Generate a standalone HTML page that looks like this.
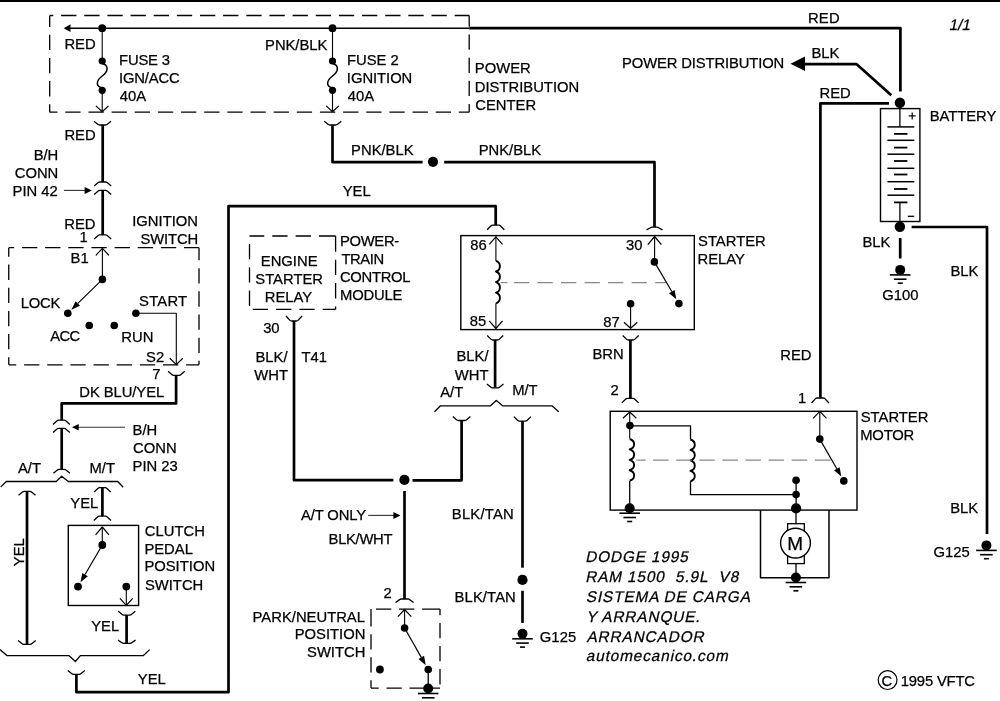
<!DOCTYPE html>
<html><head><meta charset="utf-8"><style>
html,body{margin:0;padding:0;background:#fff;overflow:hidden;}
svg{display:block;will-change:transform;}
path{stroke-linejoin:round;}
text{font-family:"Liberation Sans",sans-serif;font-size:14.8px;fill:#000;stroke:#000;stroke-width:0.25px;}
</style></head><body>
<svg width="1000" height="701" viewBox="0 0 1000 701">
<rect width="1000" height="701" fill="#fff"/>
<rect x="0" y="0" width="1000" height="2"/>
<path d="M49.7 15.5H53.25M61.1 15.5H76.4M84.25 15.5H99.55M107.4 15.5H122.7M130.55 15.5H145.85M153.7 15.5H169M176.85 15.5H192.15M200 15.5H215.3M223.15 15.5H238.45M246.3 15.5H261.6M269.45 15.5H284.75M292.6 15.5H307.9M315.75 15.5H331.05M338.9 15.5H354.2M362.05 15.5H377.35M385.2 15.5H400.5M408.35 15.5H423.65M431.5 15.5H446.8M454.65 15.5H469.2" stroke="#000" stroke-width="1.3" fill="none"/>
<path d="M49.7 15.5V26.95M49.7 34.8V50.1M49.7 57.95V73.25M49.7 81.1V96.4M49.7 104.25V112.2" stroke="#000" stroke-width="1.3" fill="none"/>
<path d="M49.7 112.2H57.45M65.3 112.2H80.6M88.45 112.2H103.75M111.6 112.2H126.9M134.75 112.2H150.05M157.9 112.2H173.2M181.05 112.2H196.35M204.2 112.2H219.5M227.35 112.2H242.65M250.5 112.2H265.8M273.65 112.2H288.95M296.8 112.2H312.1M319.95 112.2H335.25M343.1 112.2H358.4M366.25 112.2H381.55M389.4 112.2H404.7M412.55 112.2H427.85M435.7 112.2H451M458.85 112.2H469.2" stroke="#000" stroke-width="1.3" fill="none"/>
<path d="M469.2 15.5V26.65M469.2 34.5V49.8M469.2 57.65V72.95M469.2 80.8V96.1M469.2 103.95V112.2" stroke="#000" stroke-width="1.3" fill="none"/>
<path d="M63.7 28.2 L70.5 24.3 L70.5 32 Z"/>
<path d="M70 28.2 L469.2 28.2" stroke="#000" stroke-width="1.4" fill="none" />
<path d="M469.2 28.1 L900.4 28.1 L900.4 91.5" stroke="#000" stroke-width="2.7" fill="none" />
<circle cx="102.2" cy="28.2" r="3.9"/>
<path d="M102.2 28.2 L102.2 61" stroke="#000" stroke-width="1.1" fill="none" />
<circle cx="102.2" cy="61" r="3.6"/>
<path d="M102.2 63.5 C108.7 65 108.7 71 102.2 76 C95.7 81 95.7 86.5 102.2 88" stroke="#000" stroke-width="1.5" fill="none"/>
<circle cx="102.2" cy="90.3" r="3.6"/>
<path d="M102.2 90 L102.2 111.7" stroke="#000" stroke-width="1.1" fill="none" />
<path d="M95.9 105.9 L102.2 111.7 L108.5 105.9" stroke="#000" stroke-width="1.2" fill="none" />
<path d="M94 121.2 L98 124.4 Q98.6 125 99.5 125 L105.5 125 Q106.4 125 107 124.4 L111 121.2" stroke="#000" stroke-width="1.3" fill="none"/>
<circle cx="332.5" cy="28.2" r="3.9"/>
<path d="M332.5 28.2 L332.5 61" stroke="#000" stroke-width="1.1" fill="none" />
<circle cx="332.5" cy="61" r="3.6"/>
<path d="M332.5 63.5 C339.0 65 339.0 71 332.5 76 C326.0 81 326.0 86.5 332.5 88" stroke="#000" stroke-width="1.5" fill="none"/>
<circle cx="332.5" cy="90.3" r="3.6"/>
<path d="M332.5 90 L332.5 111.7" stroke="#000" stroke-width="1.1" fill="none" />
<path d="M326.2 105.9 L332.5 111.7 L338.8 105.9" stroke="#000" stroke-width="1.2" fill="none" />
<path d="M324.3 121.2 L328.3 124.4 Q328.9 125 329.8 125 L335.8 125 Q336.7 125 337.3 124.4 L341.3 121.2" stroke="#000" stroke-width="1.3" fill="none"/>
<text x="64.39" y="48.9" >RED</text>
<text x="119.09" y="64.8" textLength="50.86" lengthAdjust="spacing" >FUSE 3</text>
<text x="118.94" y="82.9" textLength="60.82" lengthAdjust="spacing" >IGN/ACC</text>
<text x="119.86" y="100.7" >40A</text>
<text x="265.09" y="50" textLength="62.19" lengthAdjust="spacing" >PNK/BLK</text>
<text x="346.99" y="65.4" >FUSE 2</text>
<text x="346.84" y="83.2" textLength="65.47" lengthAdjust="spacing" >IGNITION</text>
<text x="347.86" y="101" >40A</text>
<text x="474.79" y="72.5" >POWER</text>
<text x="474.79" y="91.5" >DISTRIBUTION</text>
<text x="475.25" y="110.2" >CENTER</text>
<text x="807.99" y="22.7" textLength="31.63" lengthAdjust="spacing" >RED</text>
<text transform="translate(948.84 30.4) skewX(-12)" x="0" y="0" style="font-size:15.2px" >1/1</text>
<text x="622.09" y="68" textLength="162.22" lengthAdjust="spacing" >POWER DISTRIBUTION</text>
<path d="M790.5 63.8 L805 56.5 L805 71.1 Z"/>
<path d="M804 64.2 L856.7 64.2 L891.3 95.3" stroke="#000" stroke-width="2.7" fill="none" />
<text x="811.39" y="57.9" >BLK</text>
<text x="819.49" y="97.6" >RED</text>
<path d="M889 103.4 L820.4 103.4 L820.4 398" stroke="#000" stroke-width="2.7" fill="none" />
<circle cx="899.9" cy="102.8" r="5.2"/>
<rect x="880.5" y="108.6" width="39.4" height="112.9" stroke="#000" stroke-width="1.4" fill="none"/>
<path d="M899.9 102.8 L899.9 126.9" stroke="#000" stroke-width="1.3" fill="none" />
<path d="M887.4 126.9 L914.3 126.9" stroke="#000" stroke-width="1.5" fill="none" />
<path d="M887.4 140.3 L914.3 140.3" stroke="#000" stroke-width="1.5" fill="none" />
<path d="M887.4 154.2 L914.3 154.2" stroke="#000" stroke-width="1.5" fill="none" />
<path d="M887.4 168.3 L914.3 168.3" stroke="#000" stroke-width="1.5" fill="none" />
<path d="M887.4 181.7 L914.3 181.7" stroke="#000" stroke-width="1.5" fill="none" />
<path d="M887.4 195.2 L914.3 195.2" stroke="#000" stroke-width="1.5" fill="none" />
<path d="M894 133.9 L907.4 133.9" stroke="#000" stroke-width="1.8" fill="none" />
<path d="M894 147.6 L907.4 147.6" stroke="#000" stroke-width="1.8" fill="none" />
<path d="M894 161 L907.4 161" stroke="#000" stroke-width="1.8" fill="none" />
<path d="M894 174.5 L907.4 174.5" stroke="#000" stroke-width="1.8" fill="none" />
<path d="M894 189 L907.4 189" stroke="#000" stroke-width="1.8" fill="none" />
<path d="M894 202.4 L907.4 202.4" stroke="#000" stroke-width="1.8" fill="none" />
<path d="M899.9 202.4 L899.9 226.6" stroke="#000" stroke-width="1.3" fill="none" />
<path d="M908.7 115.9 L915.7 115.9" stroke="#000" stroke-width="1.2" fill="none" />
<path d="M912.2 112.4 L912.2 119.4" stroke="#000" stroke-width="1.2" fill="none" />
<path d="M907.8 216.3 L914.2 216.3" stroke="#000" stroke-width="1.3" fill="none" />
<circle cx="899.9" cy="226.8" r="5.2"/>
<text x="929.79" y="120.8" textLength="66.53" lengthAdjust="spacing" >BATTERY</text>
<path d="M911.6 227 L987 227 L987 534" stroke="#000" stroke-width="2.7" fill="none" />
<text x="862.41" y="246.5" >BLK</text>
<path d="M900.2 238 L900.2 258.5" stroke="#000" stroke-width="2.7" fill="none" />
<circle cx="900.2" cy="269.9" r="5"/>
<path d="M889.9 274.9 L910.5 274.9" stroke="#000" stroke-width="1.6" fill="none" />
<path d="M893.9 279.2 L906.5 279.2" stroke="#000" stroke-width="1.6" fill="none" />
<path d="M897.7 283.2 L902.7 283.2" stroke="#000" stroke-width="1.6" fill="none" />
<text x="882.26" y="300.4" >G100</text>
<text x="950.49" y="275.5" >BLK</text>
<text x="950.19" y="512.8" >BLK</text>
<circle cx="986.4" cy="545.4" r="5"/>
<path d="M976.1 550.4 L996.7 550.4" stroke="#000" stroke-width="1.6" fill="none" />
<path d="M980.1 554.7 L992.7 554.7" stroke="#000" stroke-width="1.6" fill="none" />
<path d="M983.9 558.7 L988.9 558.7" stroke="#000" stroke-width="1.6" fill="none" />
<text x="933.56" y="556.8" >G125</text>
<path d="M102.7 125 L102.7 182" stroke="#000" stroke-width="2.7" fill="none" />
<text x="64.39" y="139.7" >RED</text>
<text x="33.63" y="159.9" >B/H</text>
<text x="14.73" y="177.6" >CONN</text>
<text x="12.6" y="195.9" >PIN 42</text>
<path d="M94.2 186 L98.2 182.6 Q98.8 182 99.7 182 L105.7 182 Q106.6 182 107.2 182.6 L111.2 186" stroke="#000" stroke-width="1.3" fill="none"/>
<path d="M94.2 194.4 L98.2 191 Q98.8 190.4 99.7 190.4 L105.7 190.4 Q106.6 190.4 107.2 191 L111.2 194.4" stroke="#000" stroke-width="1.3" fill="none"/>
<path d="M63.9 190.4 L85 190.4" stroke="#333" stroke-width="1.1" fill="none" />
<path d="M91.9 190.6 L84.6 187.1 L84.6 194.1 Z"/>
<path d="M102.7 190.4 L102.7 234.8" stroke="#000" stroke-width="2.7" fill="none" />
<path d="M94.2 239 L98.2 235.4 Q98.8 234.8 99.7 234.8 L105.7 234.8 Q106.6 234.8 107.2 235.4 L111.2 239" stroke="#000" stroke-width="1.3" fill="none"/>
<text x="64.29" y="229" >RED</text>
<text x="79.5" y="242.3" >1</text>
<text x="132.24" y="225.7" >IGNITION</text>
<text x="140.52" y="243.7" textLength="57.68" lengthAdjust="spacing" >SWITCH</text>
<path d="M8.75 247.7H14.15M22 247.7H37.3M45.15 247.7H60.45M68.3 247.7H83.6M91.45 247.7H106.75M114.6 247.7H129.9M137.75 247.7H153.05M160.9 247.7H176.2M184.05 247.7H199" stroke="#000" stroke-width="1.3" fill="none"/>
<path d="M8.75 247.7V256.75M8.75 264.6V279.9M8.75 287.75V303.05M8.75 310.9V326.2M8.75 334.05V349.35M8.75 357.2V364.8" stroke="#000" stroke-width="1.3" fill="none"/>
<path d="M8.75 364.8H16.25M24.1 364.8H39.4M47.25 364.8H62.55M70.4 364.8H85.7M93.55 364.8H108.85M116.7 364.8H132M139.85 364.8H155.15M163 364.8H178.3M186.15 364.8H199" stroke="#000" stroke-width="1.3" fill="none"/>
<path d="M199 247.7V260.35M199 268.2V283.5M199 291.35V306.65M199 314.5V329.8M199 337.65V352.95M199 360.8V364.8" stroke="#000" stroke-width="1.3" fill="none"/>
<path d="M95.8 255.3 L102.4 248.3 L109 255.3" stroke="#000" stroke-width="1.2" fill="none" />
<path d="M102.4 248.3 L102.4 279.4" stroke="#000" stroke-width="1.1" fill="none" />
<circle cx="102.4" cy="279.4" r="3.8"/>
<path d="M102.4 279.4 L77.81 303.42" stroke="#000" stroke-width="1.2" fill="none" />
<path d="M71.38 309.71 L75.58 301.13 L80.05 305.71 Z"/>
<circle cx="67.8" cy="313.2" r="3.8"/>
<circle cx="89.25" cy="325.5" r="3.8"/>
<circle cx="114.25" cy="325.5" r="3.8"/>
<circle cx="135.9" cy="313.3" r="3.8"/>
<path d="M135.9 313.3 L176.3 313.3 L176.3 364.6" stroke="#000" stroke-width="1.1" fill="none" />
<path d="M169.8 358.3 L176.3 364.6 L182.8 358.3" stroke="#000" stroke-width="1.2" fill="none" />
<text x="70.62" y="263.3" >B1</text>
<text x="20.69" y="308.1" textLength="39.79" lengthAdjust="spacing" >LOCK</text>
<text x="139.12" y="306.3" textLength="48.01" lengthAdjust="spacing" >START</text>
<text x="50.37" y="341" textLength="29.7" lengthAdjust="spacing" >ACC</text>
<text x="121.29" y="341.6" >RUN</text>
<text x="146.12" y="362" >S2</text>
<path d="M168.1 371.3 L172.1 374.7 Q172.7 375.3 173.6 375.3 L179.2 375.3 Q180.1 375.3 180.7 374.7 L184.7 371.3" stroke="#000" stroke-width="1.3" fill="none"/>
<text x="152.25" y="379.4" >7</text>
<path d="M176.1 375.3 L176.1 403.4 L61.7 403.4 L61.7 420.2" stroke="#000" stroke-width="2.7" fill="none" />
<text x="79.29" y="396.8" textLength="84.91" lengthAdjust="spacing" >DK BLU/YEL</text>
<path d="M53 424.5 L57 420.8 Q57.6 420.2 58.5 420.2 L64.3 420.2 Q65.2 420.2 65.8 420.8 L69.8 424.5" stroke="#000" stroke-width="1.3" fill="none"/>
<path d="M53 432.6 L57 428.9 Q57.6 428.3 58.5 428.3 L64.3 428.3 Q65.2 428.3 65.8 428.9 L69.8 432.6" stroke="#000" stroke-width="1.3" fill="none"/>
<path d="M61.7 428.3 L61.7 469.4" stroke="#000" stroke-width="2.7" fill="none" />
<path d="M53.4 473.2 L57.4 470 Q58 469.4 58.9 469.4 L64.5 469.4 Q65.4 469.4 66 470 L70 473.2" stroke="#000" stroke-width="1.3" fill="none"/>
<path d="M78 427.2 L125 427.2" stroke="#333" stroke-width="1.1" fill="none" />
<path d="M72 427.3 L78.7 423.9 L78.7 430.6 Z"/>
<text x="132.54" y="435" >B/H</text>
<text x="133" y="452.5" >CONN</text>
<text x="132.54" y="471" >PIN 23</text>
<path d="M0.8 486.9 L6.3 481.5 L56.2 481.5 L61.7 476.3 L68.3 481.5 L117.7 481.5 L123.2 487.2" stroke="#000" stroke-width="1.3" fill="none" />
<text x="17.97" y="472.8" >A/T</text>
<text x="89.49" y="472.8" >M/T</text>
<path d="M18.5 495.2 L22.5 492 Q23.1 491.4 24 491.4 L30 491.4 Q30.9 491.4 31.5 492 L35.5 495.2" stroke="#000" stroke-width="1.3" fill="none"/>
<path d="M27 491.4 L27 644.2" stroke="#000" stroke-width="2.7" fill="none" />
<path d="M18.1 640.6 L22.1 643.8 Q22.7 644.4 23.6 644.4 L30.2 644.4 Q31.1 644.4 31.7 643.8 L35.7 640.6" stroke="#000" stroke-width="1.3" fill="none"/>
<path d="M94.1 491.9 L98.1 488.2 Q98.7 487.6 99.6 487.6 L105.2 487.6 Q106.1 487.6 106.7 488.2 L110.7 491.9" stroke="#000" stroke-width="1.3" fill="none"/>
<path d="M102.4 487.6 L102.4 516.1" stroke="#000" stroke-width="2.7" fill="none" />
<path d="M93.8 520.5 L97.8 516.7 Q98.4 516.1 99.3 516.1 L105.5 516.1 Q106.4 516.1 107 516.7 L111 520.5" stroke="#000" stroke-width="1.3" fill="none"/>
<text x="70.27" y="508" >YEL</text>
<text transform="translate(23.5,565.9) rotate(-90)" x="-0.33" y="0">YEL</text>
<rect x="68.3" y="525.4" width="70.3" height="80.1" stroke="#000" stroke-width="1.4" fill="none"/>
<path d="M95.6 534.8 L102.3 527 L109 534.8" stroke="#000" stroke-width="1.2" fill="none" />
<path d="M102.3 527 L102.3 545" stroke="#000" stroke-width="1.1" fill="none" />
<circle cx="102.3" cy="545" r="3.9"/>
<path d="M102.3 545 L85.06 574.51" stroke="#000" stroke-width="1.2" fill="none" />
<path d="M80.52 582.28 L82.3 572.9 L87.82 576.13 Z"/>
<circle cx="78" cy="586.6" r="3.9"/>
<circle cx="126.3" cy="586.6" r="3.9"/>
<path d="M126.3 586.6 L126.3 605.4" stroke="#000" stroke-width="1.1" fill="none" />
<path d="M119.9 598.4 L126.3 605.4 L132.7 598.4" stroke="#000" stroke-width="1.2" fill="none" />
<path d="M118.3 611.3 L122.3 614.5 Q122.9 615.1 123.8 615.1 L129.8 615.1 Q130.7 615.1 131.3 614.5 L135.3 611.3" stroke="#000" stroke-width="1.3" fill="none"/>
<path d="M126.6 615.1 L126.6 643.3" stroke="#000" stroke-width="2.7" fill="none" />
<path d="M118 640.1 L122 642.7 Q122.6 643.3 123.5 643.3 L130.1 643.3 Q131 643.3 131.6 642.7 L135.6 640.1" stroke="#000" stroke-width="1.3" fill="none"/>
<text x="144.85" y="536.3" >CLUTCH</text>
<text x="144.39" y="553.9" >PEDAL</text>
<text x="144.39" y="571.4" >POSITION</text>
<text x="144.92" y="589.8" >SWITCH</text>
<text x="91.17" y="631.3" >YEL</text>
<path d="M0 649.6 L7.2 655.7 L69.1 655.7 L75.4 661.5 L80.4 655.7 L143.2 655.7 L149.6 649.6" stroke="#000" stroke-width="1.3" fill="none" />
<path d="M67.8 670.5 L71.8 673.7 Q72.4 674.3 73.3 674.3 L79.3 674.3 Q80.2 674.3 80.8 673.7 L84.8 670.5" stroke="#000" stroke-width="1.3" fill="none"/>
<path d="M76.4 674.3 L76.4 692.2 L228.5 692.2 L228.5 206.2 L495.7 206.2 L495.7 225.2" stroke="#000" stroke-width="2.7" fill="none" />
<text x="137.87" y="684.2" >YEL</text>
<text x="342.67" y="196" >YEL</text>
<path d="M332.5 125 L332.5 162.2 L422.6 162.2" stroke="#000" stroke-width="2.7" fill="none" />
<circle cx="433" cy="161.8" r="5.1"/>
<path d="M444.2 162.2 L654.5 162.2 L654.5 227.1" stroke="#000" stroke-width="2.7" fill="none" />
<text x="351.09" y="155.2" >PNK/BLK</text>
<text x="478.66" y="155.2" >PNK/BLK</text>
<path d="M249.5 236H264.3M272.3 236H287.6M295.6 236H310.9M318.9 236H335.6" stroke="#000" stroke-width="1.3" fill="none"/>
<path d="M249.5 244V259.3M249.5 267.3V282.6M249.5 290.6V305.9" stroke="#000" stroke-width="1.3" fill="none"/>
<path d="M252.8 309.4H268.1M276.1 309.4H291.4M299.4 309.4H314.7M322.7 309.4H335.6" stroke="#000" stroke-width="1.3" fill="none"/>
<path d="M335.6 236V251.8M335.6 259.8V275.1M335.6 283.1V298.4M335.6 306.4V309.4" stroke="#000" stroke-width="1.3" fill="none"/>
<text x="260.79" y="266.2" >ENGINE</text>
<text x="255.32" y="284.3" >STARTER</text>
<text x="264.79" y="301.9" >RELAY</text>
<text x="340.09" y="246.2" textLength="59.06" lengthAdjust="spacing" >POWER-</text>
<text x="341.47" y="263.8" textLength="42.62" lengthAdjust="spacing" >TRAIN</text>
<text x="339.95" y="282.1" textLength="70.55" lengthAdjust="spacing" >CONTROL</text>
<text x="340.09" y="299.6" textLength="62.26" lengthAdjust="spacing" >MODULE</text>
<path d="M286 316 L290 320.4 Q290.6 321 291.5 321 L296.5 321 Q297.4 321 298 320.4 L302 316" stroke="#000" stroke-width="1.3" fill="none"/>
<text x="263.14" y="332.6" >30</text>
<path d="M294 321 L294 480.2 L393.4 480.2" stroke="#000" stroke-width="2.7" fill="none" />
<text x="255.51" y="361.6" >BLK/</text>
<text x="254.24" y="379.8" >WHT</text>
<text x="301.47" y="361.7" >T41</text>
<circle cx="404.4" cy="479.9" r="5.1"/>
<path d="M412.5 480.3 L461.6 480.3 L461.6 420.5" stroke="#000" stroke-width="2.7" fill="none" />
<path d="M452.8 416.5 L456.8 419.9 Q457.4 420.5 458.3 420.5 L464.9 420.5 Q465.8 420.5 466.4 419.9 L470.4 416.5" stroke="#000" stroke-width="1.3" fill="none"/>
<path d="M404.5 491 L404.5 599" stroke="#000" stroke-width="2.7" fill="none" />
<text x="300.97" y="519.6" textLength="65.06" lengthAdjust="spacing" >A/T ONLY</text>
<path d="M368.2 515.4 L394.5 515.4" stroke="#333" stroke-width="1.1" fill="none" />
<path d="M400.4 515.4 L393.4 511.9 L393.4 518.9 Z"/>
<text x="328.59" y="543.8" textLength="63.85" lengthAdjust="spacing" >BLK/WHT</text>
<path d="M395.6 602.5 L399.6 599.6 Q400.2 599 401.1 599 L408.1 599 Q409 599 409.6 599.6 L413.6 602.5" stroke="#000" stroke-width="1.3" fill="none"/>
<path d="M376 609.1H391.3M399.05 609.1H414.35M422.1 609.1H440" stroke="#000" stroke-width="1.3" fill="none"/>
<path d="M371 609.1V626.5M371 634.25V649.55M371 657.3V672.6M371 680.35V688.1" stroke="#000" stroke-width="1.3" fill="none"/>
<path d="M371 688.1H378.75M386.5 688.1H401.8M409.55 688.1H424.85M432.6 688.1H440" stroke="#000" stroke-width="1.3" fill="none"/>
<path d="M440 609.1V615.25M440 623V638.3M440 646.05V661.35M440 669.1V684.4" stroke="#000" stroke-width="1.3" fill="none"/>
<path d="M397.9 616.6 L404.6 609.5 L411.3 616.6" stroke="#000" stroke-width="1.2" fill="none" />
<path d="M404.6 609.5 L404.6 628" stroke="#000" stroke-width="1.1" fill="none" />
<circle cx="404.6" cy="628" r="3.8"/>
<path d="M404.6 628 L421.28 657.33" stroke="#000" stroke-width="1.2" fill="none" />
<path d="M425.73 665.15 L418.5 658.91 L424.06 655.75 Z"/>
<circle cx="428.2" cy="669.5" r="3.8"/>
<circle cx="379.9" cy="669.5" r="3.9"/>
<path d="M428.2 669.5 L428.2 688" stroke="#000" stroke-width="1.3" fill="none" />
<circle cx="428.2" cy="688.5" r="5"/>
<path d="M417.9 693.5 L438.5 693.5" stroke="#000" stroke-width="1.6" fill="none" />
<path d="M421.9 697.8 L434.5 697.8" stroke="#000" stroke-width="1.6" fill="none" />
<path d="M425.7 701.8 L430.7 701.8" stroke="#000" stroke-width="1.6" fill="none" />
<text x="383.46" y="598.3" >2</text>
<text x="252.59" y="621.6" >PARK/NEUTRAL</text>
<text x="294.68" y="639" >POSITION</text>
<text x="307.03" y="656.8" >SWITCH</text>
<path d="M487.1 229.8 L491.1 225.8 Q491.7 225.2 492.6 225.2 L498.8 225.2 Q499.7 225.2 500.3 225.8 L504.3 229.8" stroke="#000" stroke-width="1.3" fill="none"/>
<rect x="460.8" y="235.6" width="233.5" height="94" stroke="#000" stroke-width="1.4" fill="none"/>
<path d="M489.3 244.4 L495.9 236.8 L502.5 244.4" stroke="#000" stroke-width="1.2" fill="none" />
<path d="M495.9 236.8 L495.9 261" stroke="#000" stroke-width="1.1" fill="none" />
<path d="M496 260.9 A6.2 5.7 0 0 1 496 271.5 A6.2 5.7 0 0 1 496 282.1 A6.2 5.7 0 0 1 496 292.7 A6.2 5.7 0 0 1 496 303.3" stroke="#000" stroke-width="1.9" fill="none" stroke-linejoin="round"/>
<path d="M495.9 303.3 L495.9 328.5" stroke="#000" stroke-width="1.1" fill="none" />
<path d="M489.2 320.9 L495.9 328.5 L502.6 320.9" stroke="#000" stroke-width="1.2" fill="none" />
<text x="470.16" y="249.6" >86</text>
<text x="469.86" y="326.4" >85</text>
<path d="M500.7 282.6 L507.5 282.6" stroke="#888" stroke-width="1.2" fill="none" />
<path d="M513.9 282.6H529.2M537.45 282.6H552.75M561 282.6H576.3M584.55 282.6H599.85M608.1 282.6H623.4M631.65 282.6H646.95M655.2 282.6H666" stroke="#888" stroke-width="1.2" fill="none"/>
<path d="M646.5 229.9 L650.5 227.7 Q651.1 227.1 652 227.1 L657 227.1 Q657.9 227.1 658.5 227.7 L662.5 229.9" stroke="#000" stroke-width="1.3" fill="none"/>
<path d="M647.8 244.7 L654.6 236.5 L661.4 244.7" stroke="#000" stroke-width="1.2" fill="none" />
<path d="M654.6 236.5 L654.6 261.8" stroke="#000" stroke-width="1.1" fill="none" />
<circle cx="654.4" cy="261.9" r="3.8"/>
<path d="M654.4 261.9 L671.81 291.53" stroke="#000" stroke-width="1.2" fill="none" />
<path d="M676.37 299.29 L669.05 293.15 L674.57 289.91 Z"/>
<circle cx="678.9" cy="303.6" r="3.8"/>
<circle cx="630.6" cy="303.7" r="3.8"/>
<path d="M630.6 303.7 L630.6 328.2" stroke="#000" stroke-width="1.1" fill="none" />
<path d="M623.9 322.2 L630.6 328.2 L637.3 322.2" stroke="#000" stroke-width="1.2" fill="none" />
<text x="625.94" y="249.8" >30</text>
<text x="603.26" y="326.5" >87</text>
<text x="698.07" y="246.4" >STARTER</text>
<text x="697.54" y="264.1" >RELAY</text>
<path d="M487.2 335.5 L491.2 339.4 Q491.8 340 492.7 340 L497.7 340 Q498.6 340 499.2 339.4 L503.2 335.5" stroke="#000" stroke-width="1.3" fill="none"/>
<path d="M495.1 340 L495.1 387.5" stroke="#000" stroke-width="2.7" fill="none" />
<path d="M486.9 384 L490.9 387.2 Q491.5 387.8 492.4 387.8 L498 387.8 Q498.9 387.8 499.5 387.2 L503.5 384" stroke="#000" stroke-width="1.3" fill="none"/>
<text x="456.51" y="361.2" >BLK/</text>
<text x="454.84" y="379.8" >WHT</text>
<path d="M434.5 411.8 L440.5 405.8 L490.5 405.8 L496.3 400.4 L502.6 405.8 L552 405.8 L558.7 411.8" stroke="#000" stroke-width="1.3" fill="none" />
<text x="440.17" y="397.2" >A/T</text>
<text x="512.19" y="395.4" >M/T</text>
<path d="M513.8 416.6 L517.8 420.5 Q518.4 421.1 519.3 421.1 L525.5 421.1 Q526.4 421.1 527 420.5 L531 416.6" stroke="#000" stroke-width="1.3" fill="none"/>
<path d="M522.5 421.1 L522.5 567.7" stroke="#000" stroke-width="2.7" fill="none" />
<circle cx="522.5" cy="579.9" r="5.1"/>
<path d="M522.5 590.8 L522.5 622.9" stroke="#000" stroke-width="2.7" fill="none" />
<circle cx="522.5" cy="633.8" r="5"/>
<path d="M512.2 638.8 L532.8 638.8" stroke="#000" stroke-width="1.6" fill="none" />
<path d="M516.2 643.1 L528.8 643.1" stroke="#000" stroke-width="1.6" fill="none" />
<path d="M520 647.1 L525 647.1" stroke="#000" stroke-width="1.6" fill="none" />
<text x="451.79" y="518.5" textLength="62.01" lengthAdjust="spacing" >BLK/TAN</text>
<text x="454.59" y="601.8" textLength="61.21" lengthAdjust="spacing" >BLK/TAN</text>
<text x="539.66" y="642.2" textLength="36.57" lengthAdjust="spacing" >G125</text>
<path d="M622.7 335.5 L626.7 339.4 Q627.3 340 628.2 340 L633.2 340 Q634.1 340 634.7 339.4 L638.7 335.5" stroke="#000" stroke-width="1.3" fill="none"/>
<path d="M630.4 340 L630.4 398.4" stroke="#000" stroke-width="2.7" fill="none" />
<path d="M621.8 402.9 L625.8 399 Q626.4 398.4 627.3 398.4 L633.1 398.4 Q634 398.4 634.6 399 L638.6 402.9" stroke="#000" stroke-width="1.3" fill="none"/>
<text x="592.46" y="359" >BRN</text>
<text x="610.51" y="395" >2</text>
<rect x="610.2" y="411.3" width="246.8" height="98.8" stroke="#000" stroke-width="1.4" fill="none"/>
<path d="M623 418.2 L629.7 412 L636.4 418.2" stroke="#000" stroke-width="1.2" fill="none" />
<path d="M629.7 412 L629.7 438.6" stroke="#000" stroke-width="1.1" fill="none" />
<circle cx="629.9" cy="425.6" r="3.8"/>
<path d="M629.7 425.8 L690.5 425.8 L690.5 439.5" stroke="#000" stroke-width="1.3" fill="none" />
<path d="M629.7 439 A7 5.61 0 0 1 629.7 449.43 A7 5.61 0 0 1 629.7 459.85 A7 5.61 0 0 1 629.7 470.27 A7 5.61 0 0 1 629.7 480.7" stroke="#000" stroke-width="1.9" fill="none" stroke-linejoin="round"/>
<path d="M690.5 439.5 A6.8 5.63 0 0 1 690.5 449.95 A6.8 5.63 0 0 1 690.5 460.4 A6.8 5.63 0 0 1 690.5 470.85 A6.8 5.63 0 0 1 690.5 481.3" stroke="#000" stroke-width="1.9" fill="none" stroke-linejoin="round"/>
<path d="M629.7 480.7 L629.7 508.2" stroke="#000" stroke-width="1.3" fill="none" />
<circle cx="629.7" cy="508.2" r="5"/>
<path d="M619.4 513.2 L640 513.2" stroke="#000" stroke-width="1.6" fill="none" />
<path d="M623.4 517.5 L636 517.5" stroke="#000" stroke-width="1.6" fill="none" />
<path d="M627.2 521.5 L632.2 521.5" stroke="#000" stroke-width="1.6" fill="none" />
<path d="M690.5 481.3 L690.5 494.6 L796.1 494.6" stroke="#000" stroke-width="1.3" fill="none" />
<path d="M636.3 460.1 L645.7 460.1" stroke="#888" stroke-width="1.2" fill="none" />
<path d="M653.1 460.1H668.6M676.2 460.1H691.7M699.3 460.1H714.8M722.4 460.1H737.9M745.5 460.1H761M768.6 460.1H784.1M791.7 460.1H807.2M814.8 460.1H830.6" stroke="#888" stroke-width="1.2" fill="none"/>
<path d="M811.5 403 L815.5 398.6 Q816.1 398 817 398 L823.4 398 Q824.3 398 824.9 398.6 L828.9 403" stroke="#000" stroke-width="1.3" fill="none"/>
<path d="M813.1 418.3 L819.8 411.3 L826.5 418.3" stroke="#000" stroke-width="1.2" fill="none" />
<path d="M819.8 411.3 L819.8 439.1" stroke="#000" stroke-width="1.1" fill="none" />
<circle cx="819.8" cy="439.1" r="3.8"/>
<path d="M819.8 439.1 L836.83 468.76" stroke="#000" stroke-width="1.2" fill="none" />
<path d="M841.31 476.56 L834.05 470.35 L839.6 467.17 Z"/>
<circle cx="843.8" cy="480.9" r="3.8"/>
<circle cx="796.1" cy="480.3" r="3.8"/>
<circle cx="796.1" cy="494.6" r="3.8"/>
<path d="M796.1 480.3 L796.1 508.4" stroke="#000" stroke-width="1.3" fill="none" />
<circle cx="796.1" cy="508.4" r="5.1"/>
<text x="780.29" y="359.6" >RED</text>
<text x="797.88" y="403.2" >1</text>
<text x="860.72" y="422.4" >STARTER</text>
<text x="860.19" y="440" textLength="54.12" lengthAdjust="spacing" >MOTOR</text>
<path d="M760.5 510.1 L760.5 577.8 L829 577.8 L829 510.1" stroke="#000" stroke-width="1.5" fill="none" />
<path d="M796 508.4 L796 523.7" stroke="#000" stroke-width="1.3" fill="none" />
<rect x="787.6" y="523.7" width="16.7" height="39.9" stroke="#000" stroke-width="1.3" fill="none"/>
<circle cx="795.5" cy="543.1" r="14.9" fill="#fff" stroke="#000" stroke-width="1.4"/>
<text x="787.29" y="550.4" style="font-size:19px" >M</text>
<path d="M796 563.6 L796 577.5" stroke="#000" stroke-width="1.3" fill="none" />
<circle cx="795.9" cy="577.5" r="5"/>
<path d="M785.6 582.5 L806.2 582.5" stroke="#000" stroke-width="1.6" fill="none" />
<path d="M789.6 586.8 L802.2 586.8" stroke="#000" stroke-width="1.6" fill="none" />
<path d="M793.4 590.8 L798.4 590.8" stroke="#000" stroke-width="1.6" fill="none" />
<text transform="translate(585.24 561.9) skewX(-12)" x="0" y="0" style="font-size:15.4px" letter-spacing="0.85">DODGE 1995</text>
<text transform="translate(585.24 581.7) skewX(-12)" x="0" y="0" style="font-size:15.4px" letter-spacing="0.85">RAM 1500  5.9L  V8</text>
<text transform="translate(585.79 602.1) skewX(-12)" x="0" y="0" style="font-size:15.4px" letter-spacing="0.85">SISTEMA DE CARGA</text>
<text transform="translate(586.16 621.6) skewX(-12)" x="0" y="0" style="font-size:15.4px" letter-spacing="0.85">Y ARRANQUE.</text>
<text transform="translate(586.47 642) skewX(-12)" x="0" y="0" style="font-size:15.4px" letter-spacing="0.85">ARRANCADOR</text>
<text transform="translate(585.85 661.4) skewX(-12)" x="0" y="0" style="font-size:15.4px" letter-spacing="0.85">automecanico.com</text>
<circle cx="887.6" cy="680.1" r="9.4" fill="none" stroke="#000" stroke-width="1.2"/>
<text x="881.46" y="685.9" >C</text>
<text x="900.78" y="685.8" textLength="74.19" lengthAdjust="spacing" >1995 VFTC</text>
</svg>
</body></html>
